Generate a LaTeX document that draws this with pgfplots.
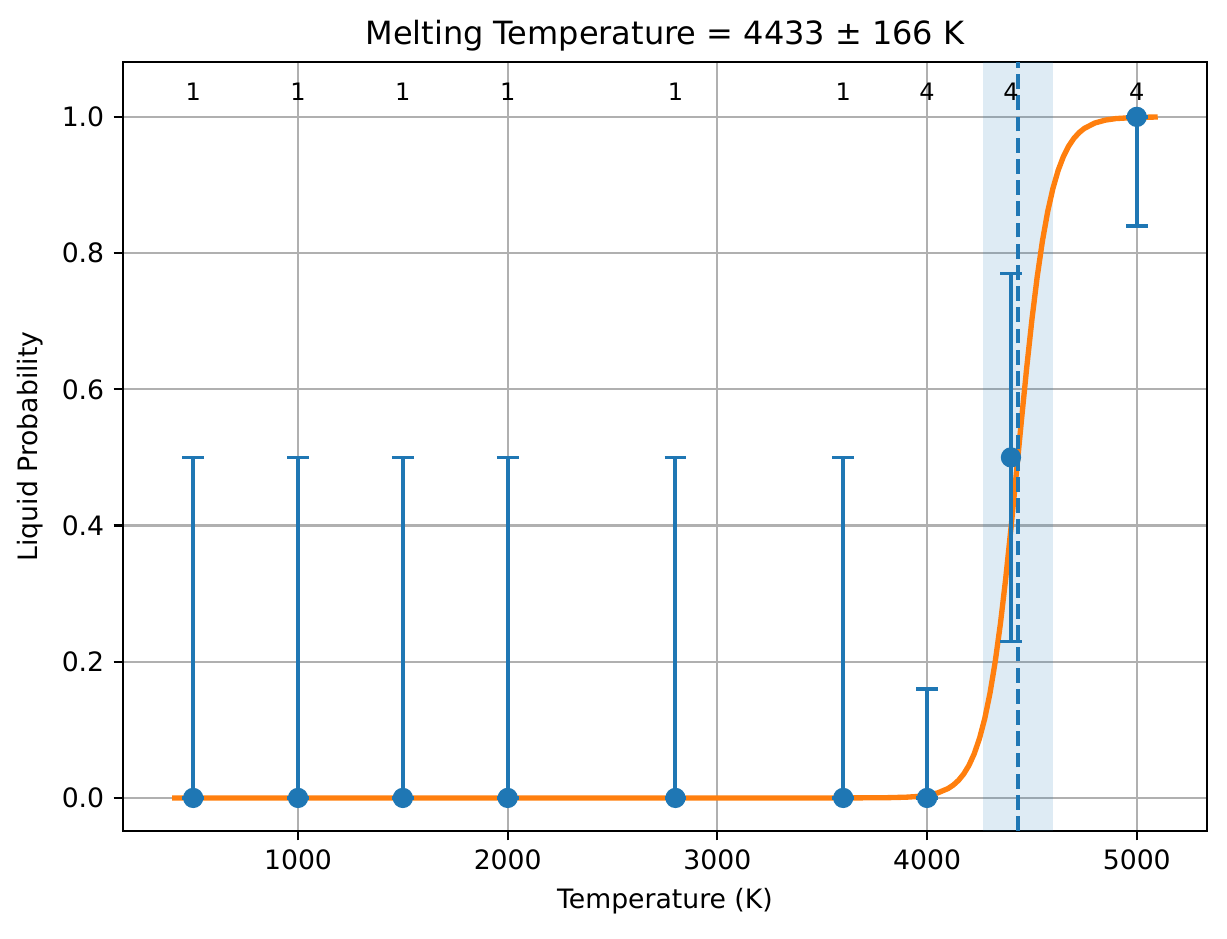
\documentclass[border=0pt]{standalone}
\usepackage{pgfplots}
\pgfplotsset{compat=1.18}
\usepackage{fontspec}
\setmainfont{DejaVu Sans}
\definecolor{tabblue}{HTML}{1F77B4}
\definecolor{taborange}{HTML}{FF7F0E}
\definecolor{gridgray}{HTML}{B0B0B0}
\begin{document}
\begin{tikzpicture}
\useasboundingbox (-46.1pt,-40.5pt) rectangle (414pt,311.6pt);
\begin{axis}[
  at={(0,0)}, anchor=south west,
  scale only axis,
  width=406.5pt, height=288.4pt,
  xmin=165, xmax=5335,
  ymin=-0.0485, ymax=1.0808,
  xtick={1000,2000,3000,4000,5000},
  ytick={0,0.2,0.4,0.6,0.8,1.0},
  yticklabel style={/pgf/number format/.cd, fixed, fixed zerofill, precision=1},
  xticklabel style={/pgf/number format/.cd, set thousands separator={}},
  /pgf/number format/assume math mode=true,
  tick align=outside, tick pos=left,
  major tick length=3.5pt,
  every tick/.style={black, line width=0.8pt},
  axis line style={black, line width=0.8pt},
  grid=major,
  major grid style={gridgray, line width=0.8pt},
  ticklabel style={font=\fontsize{10}{12}\selectfont},
  xlabel={Temperature (K)}, ylabel={Liquid Probability},
  label style={font=\fontsize{10}{12}\selectfont},
  title={Melting Temperature = 4433 ± 166 K},
  title style={font=\fontsize{12}{14}\selectfont, yshift=-5.5pt},
  clip=true,
]
% uncertainty band
\addplot[draw=none, fill=tabblue, fill opacity=0.15] coordinates {(4267,-0.0485) (4599,-0.0485) (4599,1.0808) (4267,1.0808)} -- cycle;
% fitted curve
\addplot[taborange, line width=2pt, line join=round] coordinates {
(400,0) (3600,0.00002) (3800,0.0003) (3900,0.00108) (3950,0.00204) (4000,0.00387) (4050,0.00731)
(4100,0.01379) (4125,0.01891) (4150,0.02588) (4175,0.0353) (4200,0.0480) (4225,0.0650) (4250,0.0874) (4275,0.1165) (4300,0.1538)
(4325,0.2002) (4350,0.2565) (4375,0.3222) (4400,0.3958) (4425,0.4744)
(4450,0.5543) (4475,0.6314) (4500,0.7024) (4525,0.7648) (4550,0.8176)
(4575,0.8607) (4600,0.8948) (4625,0.9214) (4650,0.9417) (4675,0.9570) (4700,0.9684) (4725,0.9769) (4750,0.9831)
(4800,0.9910) (4850,0.99525) (4900,0.9975) (5000,0.9993) (5100,0.9998)};
% data with error bars
\addplot[tabblue, only marks, mark=*, mark size=3.6pt, mark options={fill=tabblue, draw=tabblue},
  error bars/.cd, y dir=both, y explicit,
  error bar style={line width=1.5pt, tabblue},
  error mark options={rotate=90, mark size=4.1pt, line width=1.3pt, tabblue}]
coordinates {
(500,0) += (0,0.5) -= (0,0)
(1000,0) += (0,0.5) -= (0,0)
(1500,0) += (0,0.5) -= (0,0)
(2000,0) += (0,0.5) -= (0,0)
(2800,0) += (0,0.5) -= (0,0)
(3600,0) += (0,0.5) -= (0,0)
(4000,0) += (0,0.16) -= (0,0)
(4400,0.5) += (0,0.27) -= (0,0.27)
(5000,1) += (0,0) -= (0,0.16)
};
% melting temperature
\addplot[tabblue, line width=1.5pt, dash pattern=on 5.55pt off 2.4pt] coordinates {(4433,-0.0485) (4433,1.0808)};
% counts
\begin{scope}[every node/.style={font=\fontsize{9}{10}\selectfont, inner sep=0pt}]
\node at (axis cs:500,1.037) {1};
\node at (axis cs:1000,1.037) {1};
\node at (axis cs:1500,1.037) {1};
\node at (axis cs:2000,1.037) {1};
\node at (axis cs:2800,1.037) {1};
\node at (axis cs:3600,1.037) {1};
\node at (axis cs:4000,1.037) {4};
\node at (axis cs:4400,1.037) {4};
\node at (axis cs:5000,1.037) {4};
\end{scope}
\end{axis}
\end{tikzpicture}
\end{document}
